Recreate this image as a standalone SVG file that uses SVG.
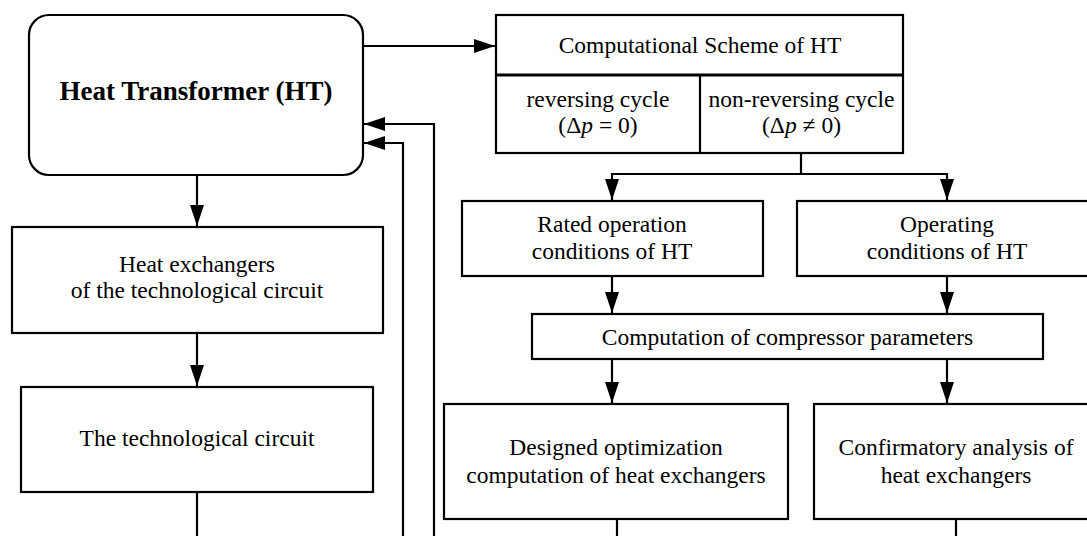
<svg xmlns="http://www.w3.org/2000/svg" width="1087" height="536" viewBox="0 0 1087 536">
<style>
.box{fill:#fff;stroke:#000;stroke-width:2.2}
.t{font-family:"Liberation Serif","Times New Roman",serif;font-size:23.5px;fill:#000;text-anchor:middle}
.b{font-weight:bold;font-size:27px}
.c{fill:none;stroke:#000;stroke-width:2.2}
</style>
<defs>
<marker id="ah" markerUnits="userSpaceOnUse" markerWidth="22" markerHeight="16" viewBox="0 0 22 16" refX="21" refY="8" orient="auto">
<path d="M0,1 L21,8 L0,15 Z" fill="#000"/>
</marker>
</defs>
<rect width="1087" height="536" fill="#fff"/>
<g id="connectors">
<path class="c" d="M363,46 H495" marker-end="url(#ah)"/>
<path class="c" d="M197,175 V226" marker-end="url(#ah)"/>
<path class="c" d="M197,333 V386" marker-end="url(#ah)"/>
<path class="c" d="M197,492 V536"/>
<path class="c" d="M434,536 V124 H364" marker-end="url(#ah)"/>
<path class="c" d="M403,536 V143 H364" marker-end="url(#ah)"/>
<path class="c" d="M801,153 V174 H612 V200" marker-end="url(#ah)"/>
<path class="c" d="M801,174 H947 V200" marker-end="url(#ah)"/>
<path class="c" d="M612,276 V313" marker-end="url(#ah)"/>
<path class="c" d="M947,276 V313" marker-end="url(#ah)"/>
<path class="c" d="M612,359 V403" marker-end="url(#ah)"/>
<path class="c" d="M947,359 V403" marker-end="url(#ah)"/>
<path class="c" d="M617,519 V536"/>
<path class="c" d="M956,519 V536"/>
</g>
<g id="ht">
<rect class="box" x="29" y="15" width="334" height="160" rx="20" ry="20"/>
<text class="t b" x="196" y="100">Heat Transformer (HT)</text>
</g>
<g id="scheme">
<rect class="box" x="496" y="15" width="407" height="138"/>
<line x1="496" y1="75" x2="903" y2="75" stroke="#000" stroke-width="3"/>
<line x1="700" y1="75" x2="700" y2="153" stroke="#000" stroke-width="2.2"/>
<text class="t" x="700" y="53">Computational Scheme of HT</text>
<text class="t" x="598" y="107">reversing cycle</text>
<text class="t" x="598" y="133">(Δ<tspan font-style="italic">p</tspan> = 0)</text>
<text class="t" x="801.5" y="107">non-reversing cycle</text>
<text class="t" x="801.5" y="133">(Δ<tspan font-style="italic">p</tspan> ≠ 0)</text>
</g>
<g id="rated">
<rect class="box" x="462" y="201" width="301" height="75"/>
<text class="t" x="612" y="232">Rated operation</text>
<text class="t" x="612" y="259">conditions of HT</text>
</g>
<g id="operating">
<rect class="box" x="797" y="201" width="300" height="75"/>
<text class="t" x="947" y="232">Operating</text>
<text class="t" x="947" y="259">conditions of HT</text>
</g>
<g id="compressor">
<rect class="box" x="532" y="314" width="511" height="45"/>
<text class="t" x="787.5" y="345">Computation of compressor parameters</text>
</g>
<g id="designed">
<rect class="box" x="444" y="404" width="344" height="115"/>
<text class="t" x="616" y="455">Designed optimization</text>
<text class="t" x="616" y="483">computation of heat exchangers</text>
</g>
<g id="confirmatory">
<rect class="box" x="814" y="404" width="284" height="115"/>
<text class="t" x="956" y="455">Confirmatory analysis of</text>
<text class="t" x="956" y="483">heat exchangers</text>
</g>
<g id="hx">
<rect class="box" x="12" y="227" width="371" height="106"/>
<text class="t" x="197" y="272">Heat exchangers</text>
<text class="t" x="197" y="298">of the technological circuit</text>
</g>
<g id="circuit">
<rect class="box" x="21" y="387" width="352" height="105"/>
<text class="t" x="197" y="446">The technological circuit</text>
</g>
</svg>
